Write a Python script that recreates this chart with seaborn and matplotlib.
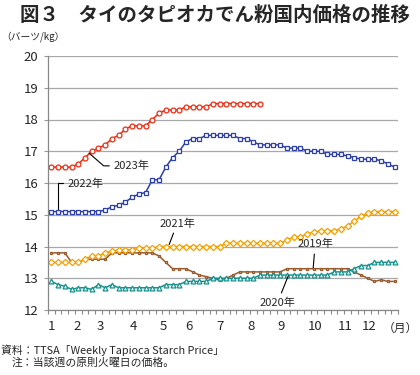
import matplotlib
matplotlib.use("Agg")
import matplotlib.pyplot as plt
import numpy as np
import seaborn as sns

# 週ごとの価格（バーツ/kg）、週番号 0..51
y2019 = [13.8, 13.8, 13.8, 13.5, 13.5, 13.6, 13.6, 13.6, 13.6,
         13.8, 13.8, 13.8, 13.8, 13.8, 13.8, 13.8, 13.7, 13.5,
         13.3, 13.3, 13.3, 13.2, 13.1, 13.05, 13.0, 12.95, 13.0, 13.1,
         13.2, 13.2, 13.2, 13.2, 13.2, 13.2, 13.2,
         13.3, 13.3, 13.3, 13.3, 13.3, 13.3, 13.3, 13.3, 13.3, 13.3,
         13.2, 13.1, 13.0, 12.9, 12.95, 12.9, 12.9]
y2020 = [12.9, 12.8, 12.75, 12.65, 12.7, 12.7, 12.65, 12.8, 12.7, 12.8,
         12.7, 12.7, 12.7, 12.7, 12.7, 12.7, 12.7,
         12.8, 12.8, 12.8, 12.9, 12.9, 12.9, 12.9,
         13.0, 13.0, 13.0, 13.0, 13.0, 13.0, 13.0,
         13.1, 13.1, 13.1, 13.1, 13.1, 13.1, 13.1, 13.1, 13.1, 13.1, 13.1,
         13.2, 13.2, 13.2, 13.3, 13.4, 13.4, 13.5, 13.5, 13.5, 13.5]
y2021 = [13.5, 13.5, 13.5, 13.5, 13.5, 13.6, 13.7, 13.7, 13.8, 13.85,
         13.9, 13.9, 13.9, 13.95, 13.95, 13.95,
         14.0, 14.0, 14.0, 14.0, 14.0, 14.0, 14.0, 14.0, 14.0, 14.0,
         14.1, 14.1, 14.1, 14.1, 14.1, 14.1, 14.1, 14.1, 14.1, 14.2,
         14.3, 14.3, 14.4, 14.45, 14.5, 14.5, 14.5, 14.55, 14.65, 14.8,
         14.95, 15.05, 15.1, 15.1, 15.1, 15.1]
y2022 = [15.1, 15.1, 15.1, 15.1, 15.1, 15.1, 15.1, 15.1, 15.15, 15.25,
         15.3, 15.4, 15.55, 15.65, 15.7, 16.1, 16.1, 16.5, 16.8, 17.0,
         17.3, 17.4, 17.4, 17.5, 17.5, 17.5, 17.5, 17.5, 17.4, 17.4,
         17.3, 17.2, 17.2, 17.2, 17.2, 17.1, 17.1, 17.1, 17.0, 17.0,
         17.0, 16.9, 16.9, 16.9, 16.85, 16.8, 16.75, 16.75, 16.75, 16.7,
         16.6, 16.5]
y2023 = [16.5, 16.5, 16.5, 16.5, 16.6, 16.8, 17.0, 17.1, 17.2, 17.4,
         17.5, 17.7, 17.8, 17.8, 17.8, 18.0, 18.2, 18.3, 18.3, 18.3,
         18.4, 18.4, 18.4, 18.4, 18.5, 18.5, 18.5, 18.5, 18.5, 18.5,
         18.5, 18.5]

# 月ラベル（各月の最初の週の位置）
month_labels = [str(m) for m in range(1, 13)]
month_pos = [0, 3.8, 7.3, 12.2, 16.7, 20.5, 25, 29.7, 34.1, 39.2, 43.6, 47.2]

sns.set_theme(style="white")
plt.rcParams["font.family"] = ["Noto Sans CJK JP", "DejaVu Sans"]

fig = plt.figure(figsize=(4.2, 3.75), dpi=100)
ax = fig.add_axes([48 / 420, 1 - 310 / 375, 350 / 420, 254 / 375])

styles = [
    (y2019, "#9a5a2c", "s", 1.8, "#e6c3a0"),
    (y2020, "#17928f", "^", 3.5, "white"),
    (y2021, "#f4a000", "D", 3.2, "white"),
    (y2022, "#2d3fa8", "s", 3.5, "white"),
    (y2023, "#f22a10", "o", 3.5, "white"),
]
for vals, col, mk, ms, mfc in styles:
    sns.lineplot(x=np.arange(len(vals)), y=vals, ax=ax, color=col, lw=1.1,
                 marker=mk, markersize=ms, markerfacecolor=mfc,
                 markeredgecolor=col, markeredgewidth=0.9)

ax.set_xlim(-0.5, 51.5)
ax.set_ylim(12, 20)
ax.set_yticks(range(12, 21))
ax.set_xticks(month_pos)
ax.set_xticklabels(month_labels)
ax.set_xticks(np.arange(-0.5, 52, 1), minor=True)
ax.tick_params(axis="x", which="major", length=0, pad=7, labelsize=9.5)
ax.tick_params(axis="x", which="minor", length=3, color="#888888",
               width=0.8, direction="out", bottom=True)
ax.tick_params(axis="y", length=3, color="#999999", width=0.8, pad=4,
               labelsize=9.5, left=True)
ax.set_xlabel("")
ax.set_ylabel("")
ax.grid(axis="y", color="#a8a8a8", lw=0.9)
for s in ["top", "right"]:
    ax.spines[s].set_visible(False)
for s in ["left", "bottom"]:
    ax.spines[s].set_color("#888888")
    ax.spines[s].set_linewidth(0.9)

# 系列ラベル
fs = 8
ax.annotate("2023年", xy=(5.6, 16.94), xytext=(9.3, 16.54), fontsize=fs,
            ha="left", va="center",
            arrowprops=dict(arrowstyle="-", color="black", lw=0.8,
                            relpos=(0, 0.5), shrinkA=1, shrinkB=0,
                            connectionstyle="angle,angleA=0,angleB=-41,rad=0"))
ax.annotate("2022年", xy=(1.0, 15.17), xytext=(2.45, 15.99), fontsize=fs,
            ha="left", va="center",
            arrowprops=dict(arrowstyle="-", color="black", lw=0.8,
                            relpos=(0, 0.5), shrinkA=1, shrinkB=0,
                            connectionstyle="angle,angleA=0,angleB=90,rad=0"))
ax.annotate("2021年", xy=(17.5, 14.06), xytext=(18.7, 14.73), fontsize=fs,
            ha="center", va="center",
            arrowprops=dict(arrowstyle="-", color="black", lw=0.8,
                            shrinkA=1, shrinkB=0))
ax.annotate("2019年", xy=(38.9, 13.33), xytext=(39.2, 14.07), fontsize=fs,
            ha="center", va="center",
            arrowprops=dict(arrowstyle="-", color="black", lw=0.8,
                            shrinkA=1, shrinkB=0))
ax.annotate("2020年", xy=(35.2, 13.08), xytext=(33.6, 12.23), fontsize=fs,
            ha="center", va="center",
            arrowprops=dict(arrowstyle="-", color="black", lw=0.8,
                            shrinkA=1, shrinkB=0))

fig.text(215 / 420, 1 - 15 / 375, "図３　タイのタピオカでん粉国内価格の推移",
         ha="center", va="center", fontsize=14, fontweight="bold")
fig.text(1 / 420, 1 - 37 / 375, "（バーツ/kg）", ha="left", va="center",
         fontsize=7)
fig.text(418 / 420, 1 - 328 / 375, "（月）", ha="right", va="center",
         fontsize=8.5)
fig.text(1 / 420, 1 - 350 / 375, "資料：TTSA「Weekly Tapioca Starch Price」",
         ha="left", va="center", fontsize=7.8)
fig.text(12 / 420, 1 - 363 / 375, "注：当該週の原則火曜日の価格。",
         ha="left", va="center", fontsize=7.8)

fig.savefig("out.png", dpi=100)
